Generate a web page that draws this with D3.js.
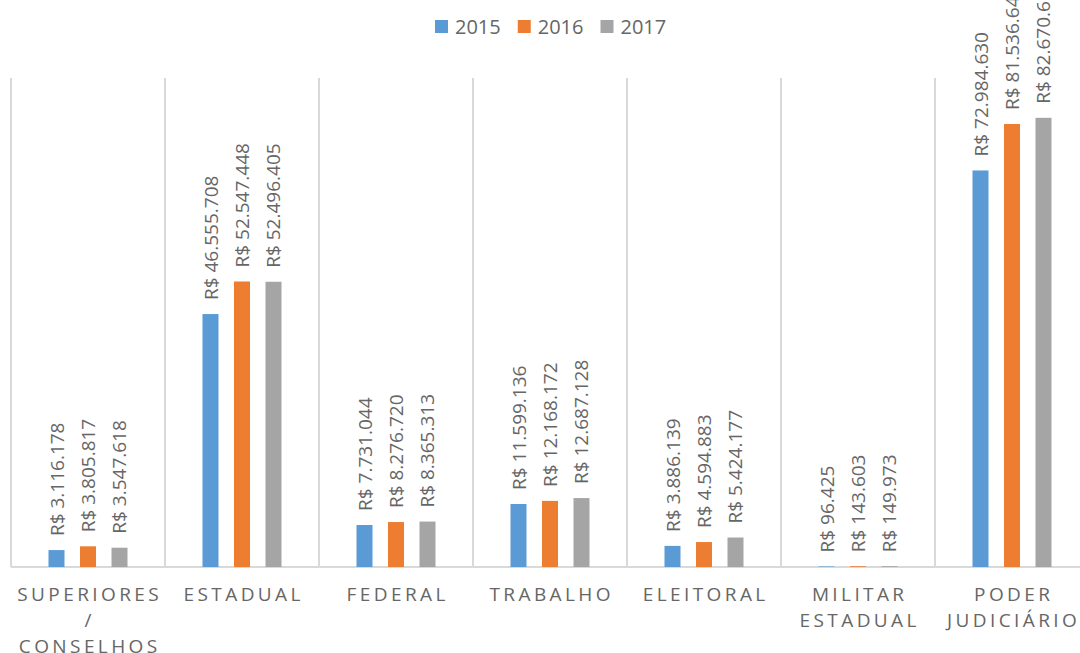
<!DOCTYPE html>
<html>
<head>
<meta charset="utf-8">
<script src="https://cdn.jsdelivr.net/npm/d3@7"></script>
<style>
  body { margin: 0; background: #fff; }
  text { font-family: "Open Sans", sans-serif; fill: #666666; }
</style>
</head>
<body>
<div id="chart"></div>
<script>
var categories = ["SUPERIORES / CONSELHOS", "ESTADUAL", "FEDERAL", "TRABALHO", "ELEITORAL", "MILITAR ESTADUAL", "PODER JUDICIÁRIO"];
var categoryLines = [["SUPERIORES", "/", "CONSELHOS"], ["ESTADUAL"], ["FEDERAL"], ["TRABALHO"], ["ELEITORAL"], ["MILITAR", "ESTADUAL"], ["PODER", "JUDICIÁRIO"]];
var years = ["2015", "2016", "2017"];
var values2015 = [3116178, 46555708, 7731044, 11599136, 3886139, 96425, 72984630];
var values2016 = [3805817, 52547448, 8276720, 12168172, 4594883, 143603, 81536643];
var values2017 = [3547618, 52496405, 8365313, 12687128, 5424177, 149973, 82670612];
var colors = ["#5b9bd5", "#ed7d31", "#a5a5a5"];

var svgWidth = 1080;
var svgHeight = 653;

var svg = d3.select("#chart")
  .append("svg")
  .attr("width", svgWidth)
  .attr("height", svgHeight);

var series = [values2015, values2016, values2017];

var x0 = d3.scaleBand()
  .domain(categories)
  .range([11, 11 + 7 * 154]);

var x1 = d3.scaleBand()
  .domain(years)
  .range([0, 79])
  .paddingInner(0.492);

var y = d3.scaleLinear()
  .domain([0, 90000000])
  .range([567, 78]);

var br = d3.formatLocale({ decimal: ",", thousands: ".", grouping: [3], currency: ["R$ ", ""] });
var fmt = br.format(",d");

// separators
var edges = categories.map(c => x0(c)).concat([x0.range()[1]]);
svg.append("g")
  .selectAll("line")
  .data(edges)
  .enter()
  .append("line")
  .attr("x1", d => d).attr("x2", d => d)
  .attr("y1", y(90000000)).attr("y2", y(0))
  .attr("stroke", "#d9d9d9")
  .attr("stroke-width", 2);

svg.append("line")
  .attr("x1", x0.range()[0]).attr("x2", x0.range()[1])
  .attr("y1", y(0)).attr("y2", y(0))
  .attr("stroke", "#d9d9d9")
  .attr("stroke-width", 2);

// bars
var rows = [];
categories.forEach(function(c, i) {
  years.forEach(function(yr, j) {
    rows.push({ cat: c, year: yr, value: series[j][i], color: colors[j] });
  });
});

var groupStart = c => x0(c) + x0.bandwidth() / 2 - 39.5;

svg.append("g")
  .selectAll("rect")
  .data(rows)
  .enter()
  .append("rect")
  .attr("x", d => groupStart(d.cat) + x1(d.year))
  .attr("y", d => y(d.value))
  .attr("width", x1.bandwidth())
  .attr("height", d => y(0) - y(d.value))
  .attr("fill", d => d.color);

svg.append("g")
  .selectAll("text")
  .data(rows)
  .enter()
  .append("text")
  .attr("transform", d => `translate(${groupStart(d.cat) + x1(d.year) + x1.bandwidth() / 2}, ${y(d.value) - 14}) rotate(-90)`)
  .attr("dominant-baseline", "central")
  .style("font-size", "19px")
  .text(d => "R$ " + fmt(d.value));

// category labels
var spacing = 3.4;
var catText = svg.append("g")
  .selectAll("text")
  .data(categories)
  .enter()
  .append("text")
  .attr("text-anchor", "middle")
  .style("font-size", "19px")
  .style("letter-spacing", spacing + "px");

catText.selectAll("tspan")
  .data((d, i) => categoryLines[i].map(l => ({ cat: d, line: l })))
  .enter()
  .append("tspan")
  .attr("x", d => x0(d.cat) + x0.bandwidth() / 2 + spacing / 2)
  .attr("y", (d, i) => 601 + i * 26)
  .text(d => d.line);

// legend
var legend = svg.append("g");
var lx = 435;
years.forEach(function(yr, j) {
  legend.append("rect")
    .attr("x", lx).attr("y", 20)
    .attr("width", 13).attr("height", 13)
    .attr("fill", colors[j]);
  var t = legend.append("text")
    .attr("x", lx + 20).attr("y", 34)
    .style("font-size", "20px")
    .text(yr);
  lx += 20 + t.node().getComputedTextLength() + 17;
});
</script>
</body>
</html>
